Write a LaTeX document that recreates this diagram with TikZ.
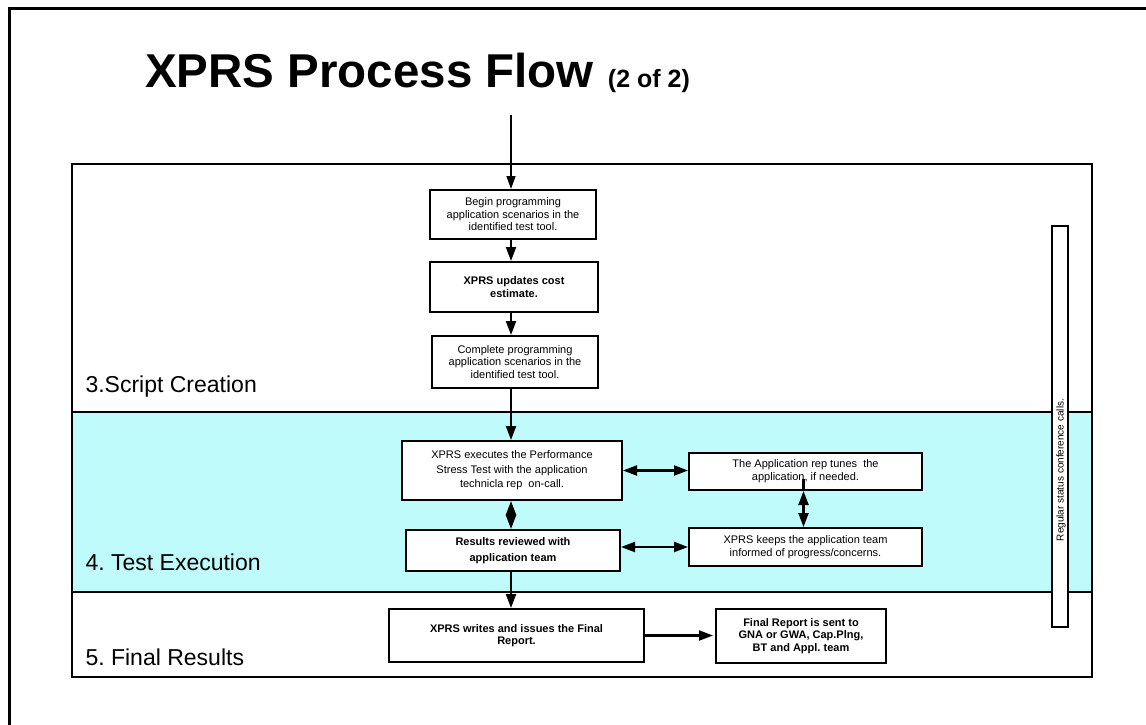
\documentclass[tikz,border=0pt]{standalone}
\usepackage{fontspec}
\setmainfont{Liberation Sans}
\usetikzlibrary{arrows.meta}
\definecolor{bandcyan}{RGB}{192,251,251}
\frenchspacing
\begin{document}
\begin{tikzpicture}[x=1pt,y=-1pt,
  box/.style={draw, line width=2pt, fill=white, align=center, inner sep=0pt,
    font=\fontsize{11}{12.5}\selectfont},
  boldbox/.style={box, font=\fontsize{11}{12.7}\selectfont\bfseries},
  flow/.style={line width=2.1pt, -{Triangle[length=14pt,width=10pt]}},
  both/.style={line width=2.1pt, {Triangle[length=14pt,width=10pt]}-{Triangle[length=14pt,width=10pt]}},
  phase/.style={anchor=base west, font=\fontsize{23}{26}\selectfont},
  frame/.style={line width=2pt}]
\useasboundingbox (0,0) rectangle (1146,725);
\clip (0,0) rectangle (1146,725);

% page frame, open towards the right and bottom edges
\draw[line width=3pt] (9,740) -- (9,9) -- (1160,9);

% title
\node[anchor=base west, inner sep=0pt] (title) at (145,88)
  {\fontsize{47.5}{50}\selectfont\bfseries XPRS Process Flow\hspace{14pt}{\fontsize{25}{27}\selectfont (2 of 2)}};

% phase frame and the test-execution band
\fill[bandcyan] (72,412) rectangle (1092,592);
\draw[frame] (72,164) rectangle (1092,677);
\draw[frame] (72,412) -- (1092,412);
\draw[frame] (72,592) -- (1092,592);

\node[phase] (ph3) at (82,392) {3.Script Creation};
\node[phase] (ph4) at (82,570) {4. Test Execution};
\node[phase] (ph5) at (82,665) {5. Final Results};

% status calls bar
\node[draw, line width=2pt, fill=white, minimum width=16pt, minimum height=401pt, inner sep=0pt] (calls) at (1060,426.5) {};
\node[rotate=90, inner sep=0pt, font=\fontsize{10}{12}\selectfont] (callstext) at (1061,470) {Regular status conference calls.};

% process steps
\node[box, minimum width=166pt, minimum height=49pt] (b1) at (513,214.5)
  {Begin programming\\application scenarios in the\\identified test tool.};
\node[boldbox, minimum width=168pt, minimum height=50pt] (b2) at (514,287)
  {XPRS updates cost\\estimate.};
\node[box, minimum width=166pt, minimum height=52pt] (b3) at (515,362)
  {Complete programming\\application scenarios in the\\identified test tool.};
\node[box, minimum width=220pt, minimum height=59pt, font=\fontsize{11}{14.5}\selectfont] (b4) at (512,470.5)
  {XPRS executes the Performance\\Stress Test with the application\\technicla rep\ \ on-call.};
\node[box, minimum width=233pt, minimum height=37pt, font=\fontsize{11}{13}\selectfont] (b5) at (805.5,471.5)
  {The Application rep tunes\ \ the\\application, if needed.};
\node[boldbox, minimum width=214pt, minimum height=41pt, font=\fontsize{11}{15.5}\selectfont\bfseries] (b6) at (513,550.5)
  {Results reviewed with\\application team};
\node[box, minimum width=233pt, minimum height=38pt, font=\fontsize{11}{13.5}\selectfont] (b7) at (805.5,547)
  {XPRS keeps the application team\\informed of progress/concerns.};
\node[boldbox, minimum width=255pt, minimum height=53pt] (b8) at (516.5,635.5)
  {XPRS writes and issues the Final\\Report.};
\node[boldbox, minimum width=170pt, minimum height=54pt] (b9) at (801,636)
  {Final Report is sent to\\GNA or GWA, Cap.Plng,\\BT and Appl. team};

% connectors
\coordinate (in) at (511,115);
\draw[line width=1.4pt, -{Triangle[length=13pt,width=9pt]}] (in) -- (in |- b1.north);
\draw[flow] (in |- b1.south) -- (in |- b2.north);
\draw[flow] (in |- b2.south) -- (in |- b3.north);
\draw[flow] (in |- b3.south) -- (in |- b4.north);
\draw[both] (in |- b4.south) -- (in |- b6.north);
\draw[both] (b4.east) -- (b4.east -| b5.west);
\draw[both] (b6.east |- b7.west) -- (b7.west);
\draw[line width=2.1pt] ([xshift=-2pt]b5.south) -- ++(0,-12);
\draw[both] ([xshift=-2pt]b5.south) -- ([xshift=-2pt]b7.north);
\draw[flow] (in |- b6.south) -- (in |- b8.north);
\draw[flow] ([xshift=-2pt]b8.east) -- ([xshift=-2pt]b8.east -| b9.west);
\end{tikzpicture}
\end{document}
